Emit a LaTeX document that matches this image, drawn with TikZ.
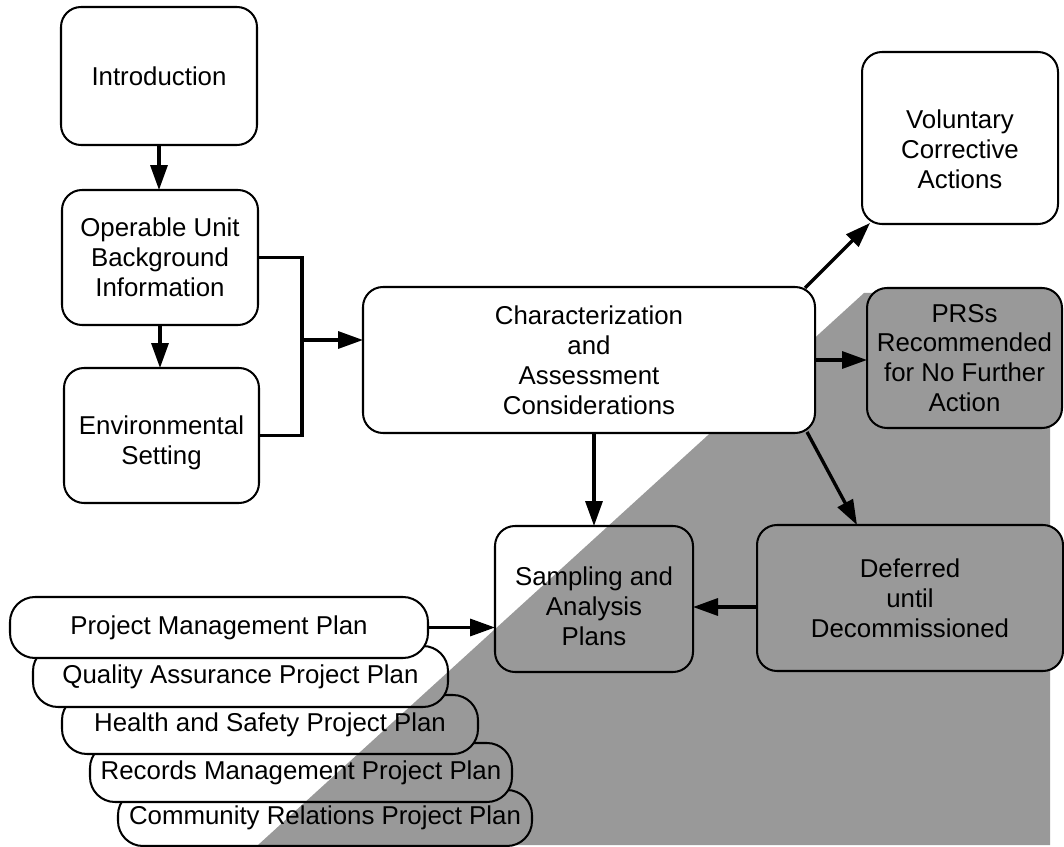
\documentclass[tikz,border=0pt]{standalone}
\usepackage{fontspec}
\setmainfont{Liberation Sans}
\usetikzlibrary{arrows.meta,calc}
\definecolor{halftone}{gray}{0.6}
\newlength\pu
\setlength\pu{0.02cm}

\begin{document}
\begin{tikzpicture}[x=0.02cm,y=-0.02cm,
  every node/.style={font=\fontsize{14.7}{17}\selectfont, align=center,
    inner sep=0pt, outer sep=0pt},
  every label/.style={font=\fontsize{14.7}{17}\selectfont, align=center},
  card/.style={draw, line width=1.15pt, rounded corners=0.4cm, fill=white},
  shaded card/.style={card, path picture={
      \fill[halftone, sharp corners] (gA) -- (gB) -- (gC) -- (gD) -- cycle;}},
  dark card/.style={card, fill=halftone},
  plan/.style={shaded card, rounded corners=0.5cm},
  flow/.style={line width=1.9pt, -{Triangle[length=0.5cm,width=0.34cm]}},
  link/.style={line width=1.9pt},
]
\useasboundingbox (0,0) rectangle (1064,847);

% shaded band behind the lower right part
\coordinate (gA) at (258,845);
\coordinate (gB) at (864,293);
\coordinate (gC) at (1050,293);
\coordinate (gD) at (1050,845);
\fill[halftone] (gA) -- (gB) -- (gC) -- (gD) -- cycle;

% left column
\node[card, minimum width=196\pu, minimum height=138\pu] (intro) at (159,76) {Introduction};
\node[card, minimum width=196\pu, minimum height=135\pu] (oub) at (160,257.5) {Operable Unit\\Background\\Information};
\node[card, minimum width=195\pu, minimum height=135\pu,
  label={[yshift=-7\pu]center:Environmental\\Setting}] (env) at (161.5,435.5) {};

% centre and right
\node[card, minimum width=452\pu, minimum height=146\pu] (char) at (589,360) {Characterization\\and\\Assessment\\Considerations};
\node[card, minimum width=196\pu, minimum height=172\pu,
  label={[yshift=-11\pu]center:Voluntary\\Corrective\\Actions}] (vol) at (960,138) {};
\node[dark card, minimum width=195\pu, minimum height=140\pu] (prs) at (964.5,358) {PRSs\\Recommended\\for No Further\\Action};
\node[shaded card, minimum width=198\pu, minimum height=146\pu,
  label={[yshift=-7\pu]center:Sampling and\\Analysis\\Plans}] (samp) at (594,599) {};
\node[dark card, minimum width=306\pu, minimum height=146\pu] (def) at (910,598) {Deferred\\until\\Decommissioned};

% stacked project plans, back to front
\node[plan, minimum width=414\pu, minimum height=56\pu] (crp) at (325,818) {Community Relations Project Plan};
\node[plan, minimum width=422\pu, minimum height=59\pu] (rmp) at (301,772.5) {Records Management Project Plan};
\node[plan, minimum width=416\pu, minimum height=59\pu] (hsp) at (270,724.5) {Health and Safety Project Plan};
\node[plan, minimum width=415\pu, minimum height=61\pu] (qap) at (240.5,676.5) {Quality Assurance Project Plan};
\node[plan, minimum width=418\pu, minimum height=61\pu] (pmp) at (219,627.5) {Project Management Plan};

% connectors
\coordinate (bus) at (302,340);
\draw[flow] (intro.south) -- (intro.south |- oub.north);
\draw[flow] (oub.south) -- (oub.south |- env.north);
\draw[link] (oub.east) -| (bus |- env.east) -- (env.east);
\draw[flow] (bus) -- (bus -| char.west);
\draw[flow] (char.south -| samp.north) -- (samp.north);
\draw[flow] (char.east) -- (char.east -| prs.west);
\draw[flow] ($(char.north east)+(-10,1)$) -- ($(vol.south west)+(8,-1)$);
\draw[flow] ($(char.south east)+(-8,-1)$) -- ($(def.north west)+(100,0)$);
\draw[flow] ($(def.west)+(0,9)$) -- ($(samp.east)+(0,8)$);
\draw[flow] (pmp.east) -- (pmp.east -| samp.west);
\end{tikzpicture}
\end{document}
